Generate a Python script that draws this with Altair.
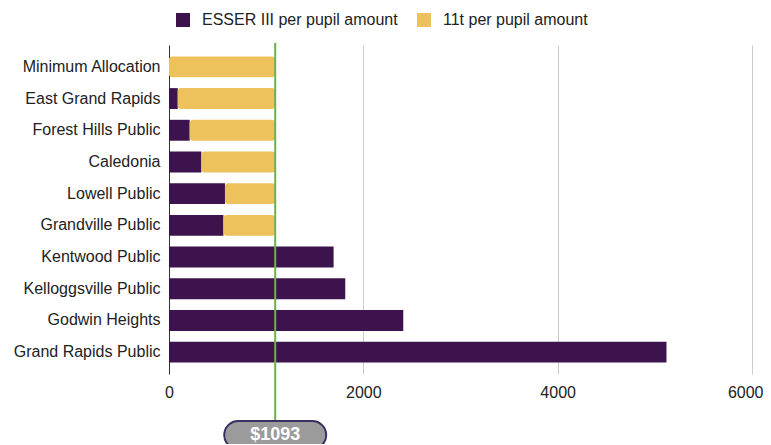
import altair as alt
import pandas as pd

schools = [
    "Minimum Allocation", "East Grand Rapids", "Forest Hills Public", "Caledonia",
    "Lowell Public", "Grandville Public", "Kentwood Public", "Kelloggsville Public",
    "Godwin Heights", "Grand Rapids Public",
]
esser = [0, 90, 213, 333, 576, 560, 1694, 1814, 2411, 5120]
t11 = [1093, 1003, 880, 760, 517, 533, 0, 0, 0, 0]
series_names = ["ESSER III per pupil amount", "11t per pupil amount"]
minimum = [1093]
minimum_label = ["$1093"]
x_ticks = [0, 2000, 4000, 6000]

rows = []
for s, e, t in zip(schools, esser, t11):
    if e > 0:
        rows.append({"school": s, "series": series_names[0], "start": 0, "end": e})
    if t > 0:
        rows.append({"school": s, "series": series_names[1], "start": e, "end": e + t})
df = pd.DataFrame(rows)
mdf = pd.DataFrame({"v": minimum, "label": minimum_label})

FONT = "Liberation Sans"
TXT = "#222222"

color = alt.Color(
    "series:N",
    scale=alt.Scale(domain=series_names, range=["#3d134d", "#edc15c"]),
    legend=alt.Legend(
        title=None, orient="none", legendX=6, legendY=-33, direction="horizontal",
        symbolType="square", symbolSize=196, symbolStrokeWidth=0, symbolOpacity=1,
        labelFontSize=16, labelFont=FONT, labelColor=TXT, labelOffset=11,
        labelLimit=400, columnPadding=18,
    ),
)
x = alt.X(
    "start:Q",
    scale=alt.Scale(domain=[0, 6000], nice=False),
    axis=alt.Axis(
        values=x_ticks, title=None, domain=False, ticks=False, grid=True,
        gridColor="#cccccc", labelFontSize=16, labelFont=FONT, labelColor=TXT,
        labelPadding=10, format="d", labelFlush=False,
        labelAlign={"condition": {"test": "datum.value == 6000", "value": "right"}, "value": "center"},
        labelOffset={"condition": {"test": "datum.value == 6000", "value": 11}, "value": 0},
    ),
)
y = alt.Y(
    "school:N",
    sort=schools,
    scale=alt.Scale(paddingInner=0.34, paddingOuter=0.36),
    axis=alt.Axis(
        title=None, ticks=False, domainColor="#333333", labelFontSize=16,
        labelFont=FONT, labelColor=TXT, labelPadding=9,
    ),
)

base = alt.Chart(df)
purple = base.transform_filter(alt.datum.series == series_names[0]).mark_bar().encode(
    x=x, x2="end:Q", y=y, color=color
)
yellow = base.transform_filter(alt.datum.series == series_names[1]).mark_bar(
    cornerRadiusEnd=3
).encode(x=x, x2="end:Q", y=y, color=color)

rule = alt.Chart(mdf).mark_rule(color="#6cb24b", strokeWidth=2).encode(
    x="v:Q", y=alt.value(-2), y2=alt.value(376)
)
pill = alt.Chart(mdf).mark_rect(
    width=102, cornerRadius=14, fill="#9b9b9b", stroke="#3b2e63", strokeWidth=2
).encode(x="v:Q", y=alt.value(376), y2=alt.value(404))
pill_text = alt.Chart(mdf).mark_text(
    font=FONT, fontWeight="bold", fontSize=18, color="white", baseline="middle"
).encode(x="v:Q", y=alt.value(390), text="label:N")

chart = alt.layer(purple, yellow, rule, pill, pill_text).properties(
    width=583,
    height=329,
    padding={"left": 161, "top": 37, "right": 11, "bottom": 70},
    autosize=alt.AutoSizeParams(type="none"),
).configure_view(stroke=None)

chart.save("out.html", embed_options={"renderer": "svg", "actions": False})
